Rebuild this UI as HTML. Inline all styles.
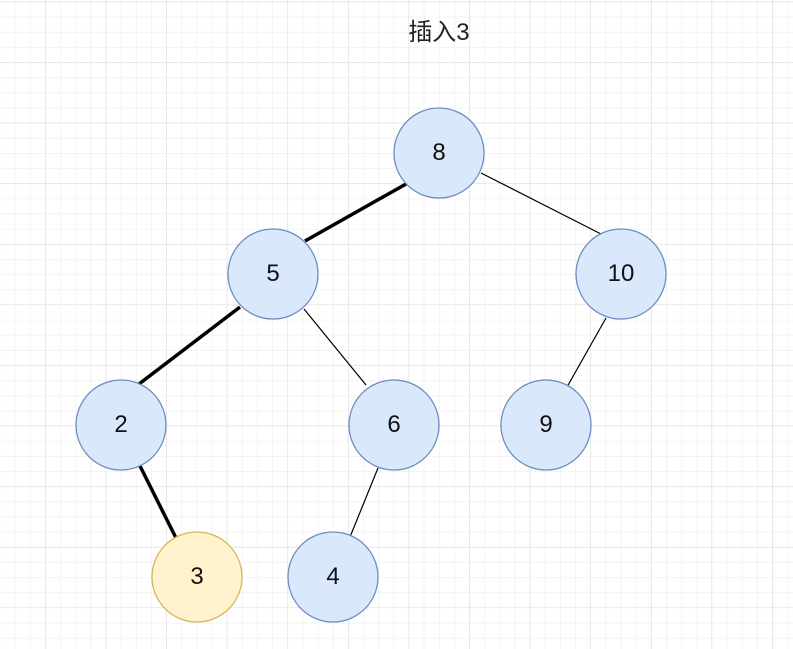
<!DOCTYPE html>
<html><head><meta charset="utf-8"><style>
html,body{margin:0;padding:0;background:#fff;}
svg{display:block;}
text{font-family:"Liberation Sans","Noto Sans CJK SC",sans-serif;}
</style></head><body>
<svg width="793" height="649" xmlns="http://www.w3.org/2000/svg">
<defs>
<pattern id="minor" x="-0.5" y="1.5" width="15.15" height="15.15" patternUnits="userSpaceOnUse">
<path d="M0 0H15.15M0 0V15.15" stroke="#f0f0f0" stroke-width="1.5" fill="none"/>
</pattern>
<pattern id="major" x="-15.6" y="1.5" width="60.6" height="60.6" patternUnits="userSpaceOnUse">
<path d="M0 0H60.6M0 0V60.6" stroke="#dcdcdc" stroke-width="1" fill="none"/>
</pattern>
</defs>
<rect width="793" height="649" fill="url(#minor)"/>
<rect width="793" height="649" fill="url(#major)"/>
<text x="439" y="40" font-size="24" text-anchor="middle" fill="#222">插入3</text>
<g stroke="#000" fill="none">
<line x1="406" y1="184" x2="305" y2="241" stroke-width="3.5"/>
<line x1="481" y1="173" x2="603" y2="235" stroke-width="1.2"/>
<line x1="240" y1="307" x2="139" y2="384" stroke-width="3.5"/>
<line x1="304" y1="309" x2="366" y2="385" stroke-width="1.2"/>
<line x1="606" y1="318" x2="567" y2="387" stroke-width="1.2"/>
<line x1="140" y1="466" x2="176" y2="538" stroke-width="3.5"/>
<line x1="378" y1="468" x2="350" y2="537" stroke-width="1.2"/>
</g>
<g stroke="#6c8ebf" stroke-width="1.3" fill="#dae8fc">
<circle cx="439" cy="153" r="45"/>
<circle cx="273" cy="274" r="45"/>
<circle cx="621" cy="274" r="45"/>
<circle cx="121" cy="425" r="45"/>
<circle cx="394" cy="425" r="45"/>
<circle cx="546" cy="425" r="45"/>
<circle cx="333" cy="577" r="45"/>
</g>
<circle cx="197" cy="577" r="45" fill="#fff2cc" stroke="#d6b656" stroke-width="1.3"/>
<g font-size="24" text-anchor="middle" fill="#111">
<text x="439" y="160">8</text>
<text x="273" y="281">5</text>
<text x="621" y="281">10</text>
<text x="121" y="432">2</text>
<text x="394" y="432">6</text>
<text x="546" y="432">9</text>
<text x="197" y="584">3</text>
<text x="333" y="584">4</text>
</g>
</svg>
</body></html>
